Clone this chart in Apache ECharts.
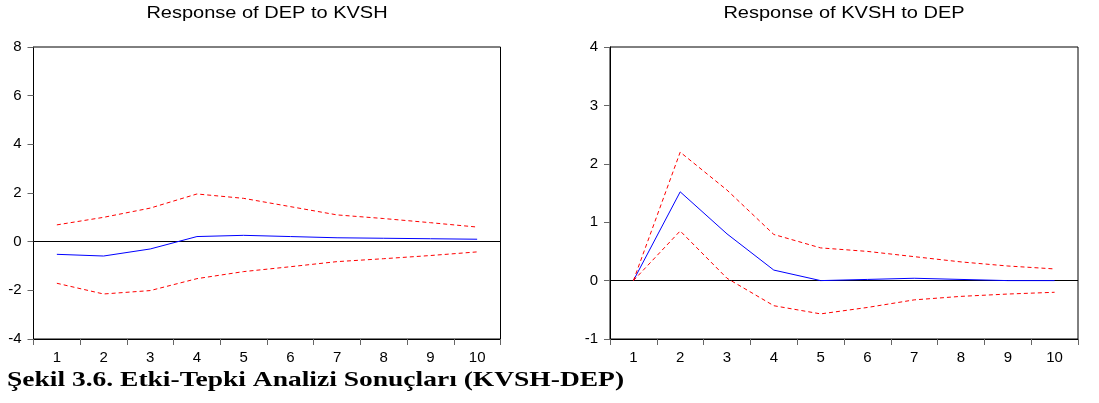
<!DOCTYPE html>
<html>
<head>
<meta charset="utf-8">
<script src="https://cdn.jsdelivr.net/npm/echarts@6/dist/echarts.min.js"></script>
<style>
  html, body { margin: 0; padding: 0; background: #fff; }
  #chart { width: 1099px; height: 403px; }
</style>
</head>
<body>
<div id="chart"></div>
<script>
// periods
const periods = ['1', '2', '3', '4', '5', '6', '7', '8', '9', '10']

// Response of DEP to KVSH
const depResp = [-0.52, -0.59, -0.30, 0.21, 0.26, 0.21, 0.16, 0.14, 0.12, 0.10]
const depUpper = [0.69, 1.00, 1.38, 1.96, 1.78, 1.44, 1.10, 0.95, 0.78, 0.60]
const depLower = [-1.71, -2.15, -2.01, -1.52, -1.23, -1.03, -0.82, -0.70, -0.57, -0.42]

// Response of KVSH to DEP
const kvshResp = [0, 1.52, 0.80, 0.18, 0.00, 0.02, 0.04, 0.02, 0.00, 0.00]
const kvshUpper = [0, 2.20, 1.55, 0.79, 0.56, 0.50, 0.41, 0.32, 0.25, 0.20]
const kvshLower = [0, 0.85, 0.04, -0.43, -0.57, -0.46, -0.33, -0.27, -0.23, -0.20]

const chart = echarts.init(document.getElementById('chart'))

const font = 'Liberation Sans, Arial, sans-serif'

function xAxis(idx) {
  return {
    type: 'category',
    gridIndex: idx,
    data: periods,
    boundaryGap: true,
    axisLine: { show: true, onZero: false, lineStyle: { color: '#000', width: 1 } },
    axisTick: { show: true, alignWithLabel: false, length: 6, lineStyle: { color: '#666' } },
    axisLabel: { color: '#000', fontSize: 15, fontFamily: font, margin: 11 },
    splitLine: { show: false }
  }
}

function yAxis(idx, min, max, step) {
  return {
    type: 'value',
    gridIndex: idx,
    min: min,
    max: max,
    interval: step,
    axisLine: { show: true, lineStyle: { color: '#000', width: 1 } },
    axisTick: { show: true, length: 6, lineStyle: { color: '#666' } },
    axisLabel: { color: '#000', fontSize: 15, fontFamily: font, margin: 12 },
    splitLine: { show: false }
  }
}

function line(name, data, idx, color, dashed, zero) {
  const s = {
    name: name,
    type: 'line',
    xAxisIndex: idx,
    yAxisIndex: idx,
    data: data,
    symbol: 'none',
    silent: true,
    lineStyle: { color: color, width: 1, type: dashed ? [4, 3] : 'solid' },
    z: 3
  }
  if (zero) {
    s.markLine = {
      silent: true,
      symbol: 'none',
      label: { show: false },
      lineStyle: { color: '#000', width: 1, type: 'solid' },
      data: [{ yAxis: 0 }],
      z: 2
    }
  }
  return s
}

// plot titles and caption are drawn wider than the font, as in the source image
function label(text, x, y, align, fontStr, sx) {
  return {
    type: 'text',
    x: x,
    y: y,
    scaleX: sx,
    silent: true,
    style: { text: text, font: fontStr, fill: '#000', align: align, verticalAlign: 'top' }
  }
}

chart.setOption({
  animation: false,
  backgroundColor: '#fff',
  grid: [
    { left: 33.5, top: 47, width: 467, height: 292, show: true, borderColor: '#000', borderWidth: 1, backgroundColor: '#fff' },
    { left: 610, top: 47, width: 468, height: 292, show: true, borderColor: '#000', borderWidth: 1, backgroundColor: '#fff' }
  ],
  xAxis: [xAxis(0), xAxis(1)],
  yAxis: [yAxis(0, -4, 8, 2), yAxis(1, -1, 4, 1)],
  series: [
    line('DEP', depResp, 0, '#0000ff', false, true),
    line('DEP upper', depUpper, 0, '#ff0000', true),
    line('DEP lower', depLower, 0, '#ff0000', true),
    line('KVSH', kvshResp, 1, '#0000ff', false, true),
    line('KVSH upper', kvshUpper, 1, '#ff0000', true),
    line('KVSH lower', kvshLower, 1, '#ff0000', true)
  ],
  graphic: [
    label('Response of DEP to KVSH', 267, 6, 'center', '16px "Liberation Sans", Arial, sans-serif', 1.25),
    label('Response of KVSH to DEP', 844, 6, 'center', '16px "Liberation Sans", Arial, sans-serif', 1.25),
    label('Şekil 3.6. Etki-Tepki Analizi Sonuçları (KVSH-DEP)', 7, 369, 'left', 'bold 22px "Liberation Serif", "Times New Roman", serif', 1.25)
  ]
})
</script>
</body>
</html>
